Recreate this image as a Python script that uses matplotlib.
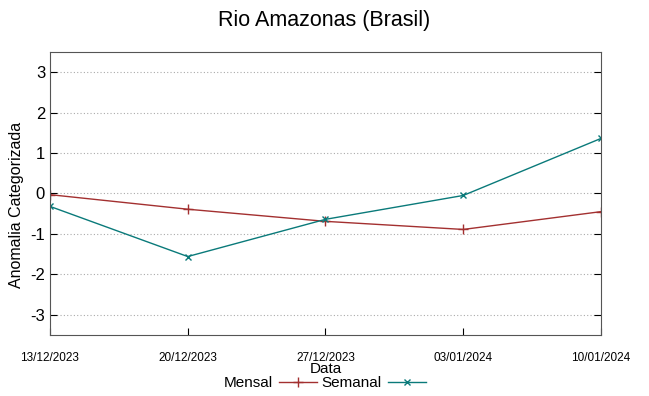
import numpy as np
import matplotlib
matplotlib.use('Agg')
from matplotlib import pyplot as plt

plt.rcParams['font.family'] = ['Liberation Sans', 'DejaVu Sans']
plt.rcParams['axes.unicode_minus'] = False

datas = ['13/12/2023', '20/12/2023', '27/12/2023', '03/01/2024', '10/01/2024']
mensal = [-0.03, -0.39, -0.69, -0.89, -0.45]
semanal = [-0.32, -1.56, -0.64, -0.05, 1.36]

x = np.arange(len(datas))

fig = plt.figure(figsize=(6.49, 3.96), dpi=100)
ax = fig.add_axes([0.077, 0.154, 0.849, 0.715])

ax.plot(x, mensal, color='#a33030', lw=1, marker='+', ms=7, mew=1, label='Mensal')
ax.plot(x, semanal, color='#0a7a7a', lw=1, marker='x', ms=5, mew=1, label='Semanal')

ax.set_xlim(0, 4)
ax.set_ylim(-3.5, 3.5)
ax.set_xticks(x)
ax.set_xticklabels(datas, fontsize=8.5, family=['Liberation Sans Narrow', 'Liberation Sans'])
ax.set_yticks([-3, -2, -1, 0, 1, 2, 3])
ax.tick_params(axis='y', labelsize=12, direction='in', right=True, length=5)
ax.tick_params(axis='x', direction='in', top=False, length=5, pad=12)
ax.yaxis.grid(True, linestyle=(0, (1, 2)), color='#aaaaaa', lw=0.8)
for s in ax.spines.values():
    s.set_color('#555555')

ax.set_ylabel('Anomalia Categorizada', fontsize=11.5)
ax.yaxis.set_label_coords(-0.047, 0.46)
ax.set_xlabel('Data', fontsize=11, labelpad=-1.5)
fig.suptitle('Rio Amazonas (Brasil)', fontsize=15.5, y=0.975)

fig.legend(loc='lower center', bbox_to_anchor=(0.5, -0.02), ncol=2, frameon=False,
           markerfirst=False, fontsize=11, handlelength=2.5, columnspacing=0.3,
           handletextpad=0.4)

fig.savefig('out.png', dpi=100)
